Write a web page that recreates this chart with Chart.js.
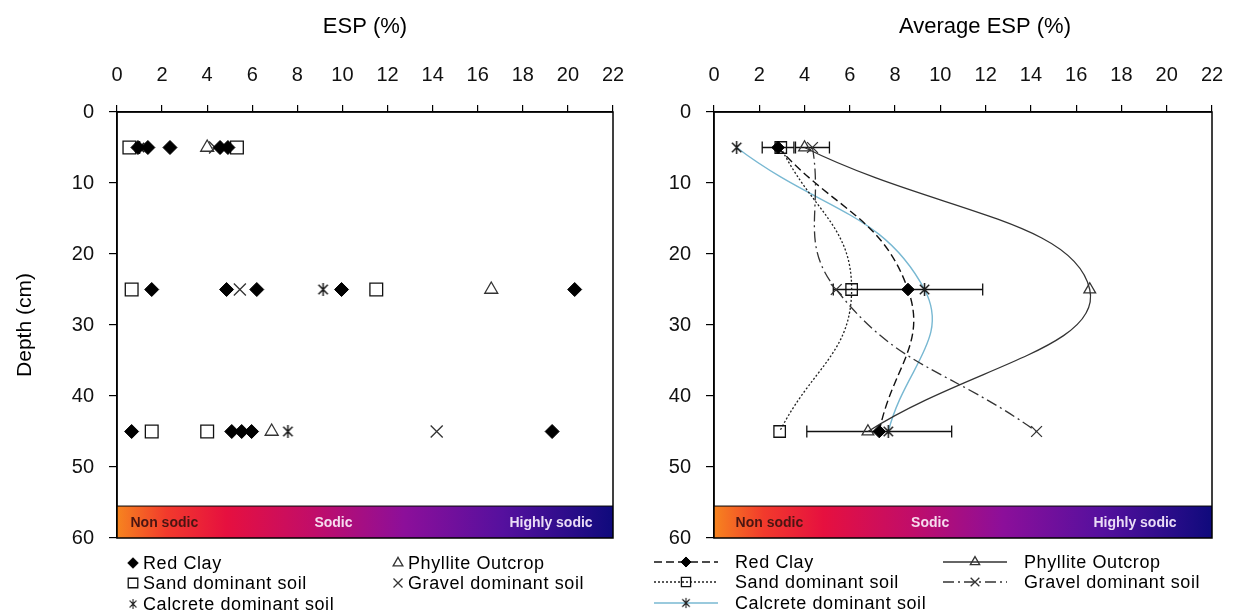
<!DOCTYPE html>
<html>
<head>
<meta charset="utf-8">
<script src="https://cdn.jsdelivr.net/npm/chart.js@4.4.1/dist/chart.umd.min.js"></script>
<style>
  html, body { margin: 0; padding: 0; background: #fff; }
  #wrap { position: relative; width: 1236px; height: 613px; overflow: hidden; background: #fff; }
  #espChart { position: absolute; left: 0; top: 0; }
  #avgChart { position: absolute; left: 618px; top: 0; }
</style>
</head>
<body>
<div id="wrap">
  <canvas id="espChart" width="640" height="613"></canvas>
  <canvas id="avgChart" width="618" height="613"></canvas>
</div>
<script>
// ---- Data -------------------------------------------------------------
const seriesNames = ['Red Clay', 'Phyllite Outcrop', 'Sand dominant soil', 'Gravel dominant soil', 'Calcrete dominant soil'];
const espTickValues = [0, 2, 4, 6, 8, 10, 12, 14, 16, 18, 20, 22];
const depthTickValues = [0, 10, 20, 30, 40, 50, 60];
const sodicityLabels = ['Non sodic', 'Sodic', 'Highly sodic'];

// Individual samples (ESP %, depth cm)
const redClayESP   = [0.93, 1.37, 2.35, 4.57, 4.92, 1.54, 4.86, 6.2, 9.96, 20.3, 0.65, 5.09, 5.53, 5.97, 19.3];
const redClayDepth = [5, 5, 5, 5, 5, 25, 25, 25, 25, 25, 45, 45, 45, 45, 45];
const phylliteESP   = [4.0, 16.6, 6.86];
const phylliteDepth = [5, 25, 45];
const sandESP   = [0.55, 5.32, 0.65, 11.5, 1.54, 4.0];
const sandDepth = [5, 5, 25, 25, 45, 45];
const gravelESP   = [4.35, 5.45, 14.18];
const gravelDepth = [5, 25, 45];
const calcreteESP   = [1.0, 9.14, 7.58];
const calcreteDepth = [5, 25, 45];

// Averages per sampling depth
const avgDepths   = [5, 25, 45];
const avgRedClay  = [2.83, 8.57, 7.3];
const errRedClay  = [0.7, 3.3, 3.2];
const avgPhyllite = [4.0, 16.6, 6.8];
const avgSand     = [2.95, 6.08, 2.9];
const avgGravel   = [4.35, 5.4, 14.25];
const errGravel   = [0.75, 0, 0];
const avgCalcrete = [1.0, 9.3, 7.7];

// ---- Helpers ------------------------------------------------------------
const FONT = '"Liberation Sans", Arial, Helvetica, sans-serif';
const pairs = (xs, ys) => xs.map((v, i) => ({ x: v, y: ys[i] }));

function asteriskImage(size, color, lw) {
  const c = document.createElement('canvas');
  c.width = c.height = size;
  const g = c.getContext('2d');
  const m = size / 2, r = size / 2 - 1;
  g.strokeStyle = color;
  g.lineWidth = lw;
  g.beginPath();
  g.moveTo(m, m - r); g.lineTo(m, m + r);
  g.moveTo(m - r * 0.72, m - r * 0.72); g.lineTo(m + r * 0.72, m + r * 0.72);
  g.moveTo(m + r * 0.72, m - r * 0.72); g.lineTo(m - r * 0.72, m + r * 0.72);
  g.stroke();
  return c;
}
const asteriskMark = asteriskImage(15, '#1a1a1a', 1.5);

function drawMarker(ctx, ds, x, y, scale) {
  const style = ds.pointStyle;
  if (style instanceof HTMLCanvasElement) {
    const s = style.width * scale;
    ctx.drawImage(style, x - s / 2, y - s / 2, s, s);
    return;
  }
  ctx.save();
  ctx.setLineDash([]);
  ctx.fillStyle = ds.pointBackgroundColor;
  ctx.strokeStyle = ds.pointBorderColor;
  ctx.lineWidth = ds.pointBorderWidth;
  Chart.helpers.drawPoint(ctx, {
    pointStyle: style, radius: ds.pointRadius * scale, rotation: 0, borderWidth: ds.pointBorderWidth
  }, x, y);
  ctx.restore();
}

// Sodicity band along the bottom of the plot area
const bandPlugin = {
  id: 'sodicBand',
  beforeDatasetsDraw(chart, args, opts) {
    const { ctx, chartArea: a, scales: { x, y } } = chart;
    const top = y.getPixelForValue(opts.fromDepth);
    const g = ctx.createLinearGradient(a.left, 0, a.right, 0);
    g.addColorStop(0.00, '#f6841f');
    g.addColorStop(0.10, '#f23a2c');
    g.addColorStop(0.22, '#e6103f');
    g.addColorStop(0.40, '#c00d6a');
    g.addColorStop(0.58, '#8c0f9a');
    g.addColorStop(0.78, '#55109e');
    g.addColorStop(1.00, '#0f0a7c');
    ctx.save();
    ctx.fillStyle = g;
    ctx.fillRect(a.left, top, a.right - a.left, a.bottom - top);
    ctx.strokeStyle = '#000';
    ctx.lineWidth = 1;
    ctx.beginPath();
    ctx.moveTo(a.left, top); ctx.lineTo(a.right, top);
    ctx.stroke();
    ctx.font = 'bold 14px ' + FONT;
    ctx.textAlign = 'center';
    ctx.textBaseline = 'middle';
    const colors = ['#4a1512', '#f6dcee', '#eadcf6'];
    sodicityLabels.forEach((t, i) => {
      ctx.fillStyle = colors[i];
      ctx.fillText(t, x.getPixelForValue(opts.labelAt[i]), (top + a.bottom) / 2 + 1);
    });
    ctx.restore();
  }
};

// Horizontal standard-error bars
const errorBarPlugin = {
  id: 'errorBars',
  beforeDatasetsDraw(chart) {
    const { ctx, scales: { x, y } } = chart;
    ctx.save();
    ctx.strokeStyle = '#111';
    ctx.lineWidth = 1.3;
    chart.data.datasets.forEach(ds => {
      if (!ds.errorX) return;
      ds.data.forEach((p, j) => {
        const e = ds.errorX[j];
        if (!e) return;
        const py = y.getPixelForValue(p.y);
        const x1 = x.getPixelForValue(p.x - e), x2 = x.getPixelForValue(p.x + e);
        ctx.beginPath();
        ctx.moveTo(x1, py); ctx.lineTo(x2, py);
        ctx.moveTo(x1, py - 6); ctx.lineTo(x1, py + 6);
        ctx.moveTo(x2, py - 6); ctx.lineTo(x2, py + 6);
        ctx.stroke();
      });
    });
    ctx.restore();
  }
};

// Plot frame, top title and two-column legend
const framePlugin = {
  id: 'frameAndLegend',
  afterDraw(chart, args, opts) {
    const { ctx, chartArea: a } = chart;
    ctx.save();
    ctx.strokeStyle = '#000';
    ctx.lineWidth = 1.5;
    ctx.strokeRect(a.left, a.top, a.right - a.left, a.bottom - a.top);

    ctx.fillStyle = '#000';
    ctx.font = '22px ' + FONT;
    ctx.textAlign = 'center';
    ctx.textBaseline = 'middle';
    ctx.fillText(opts.title, (a.left + a.right) / 2 + opts.titleShift, 27);

    ctx.font = '18px ' + FONT;
    ctx.letterSpacing = '0.6px';
    ctx.textAlign = 'left';
    chart.data.datasets.forEach((ds, i) => {
      const col = i % 2, row = Math.floor(i / 2);
      const mx = opts.colX[col], my = opts.rowY[row];
      if (opts.lineHalf) {
        ctx.save();
        ctx.strokeStyle = ds.borderColor;
        ctx.lineWidth = ds.borderWidth;
        ctx.setLineDash(ds.borderDash || []);
        ctx.beginPath();
        ctx.moveTo(mx - opts.lineHalf, my); ctx.lineTo(mx + opts.lineHalf, my);
        ctx.stroke();
        ctx.restore();
      }
      drawMarker(ctx, ds, mx, my, opts.markerScale);
      ctx.fillStyle = '#000';
      ctx.fillText(ds.label, mx + opts.textGap, my + 1);
    });
    ctx.restore();
  }
};

function makeScales(yWidth, yTitle) {
  return {
    x: {
      type: 'linear', position: 'top', min: 0, max: 22,
      afterBuildTicks: s => { s.ticks = espTickValues.map(v => ({ value: v })); },
      afterFit: s => { s.height = 112; s.paddingLeft = 0; s.paddingRight = 0; },
      ticks: { color: '#111', padding: 18, font: { family: FONT, size: 20 } },
      grid: { drawOnChartArea: false, drawTicks: true, tickLength: 7, color: '#000', lineWidth: 1.2 },
      border: { display: true, color: '#000', width: 1.5 }
    },
    y: {
      type: 'linear', position: 'left', reverse: true, min: 0, max: 60,
      afterBuildTicks: s => { s.ticks = depthTickValues.map(v => ({ value: v })); },
      afterFit: s => { s.width = yWidth; s.paddingTop = 0; s.paddingBottom = 0; },
      ticks: { color: '#111', padding: 15, font: { family: FONT, size: 20 } },
      grid: { drawOnChartArea: false, drawTicks: true, tickLength: 8, color: '#000', lineWidth: 1.2 },
      border: { display: true, color: '#000', width: 1.5 },
      title: yTitle ? { display: true, text: yTitle, color: '#000', font: { family: FONT, size: 21 }, padding: { top: 13, bottom: 0 } } : { display: false }
    }
  };
}

const markerLook = [
  { pointStyle: 'rectRot',  pointRadius: 7,   pointBackgroundColor: '#000', pointBorderColor: '#000', pointBorderWidth: 1 },
  { pointStyle: 'triangle', pointRadius: 7.5, pointBackgroundColor: 'rgba(0,0,0,0)', pointBorderColor: '#333', pointBorderWidth: 1.3 },
  { pointStyle: 'rect',     pointRadius: 9,   pointBackgroundColor: 'rgba(0,0,0,0)', pointBorderColor: '#111', pointBorderWidth: 1.3 },
  { pointStyle: 'crossRot', pointRadius: 8.5, pointBackgroundColor: 'rgba(0,0,0,0)', pointBorderColor: '#333', pointBorderWidth: 1.3 },
  { pointStyle: asteriskMark, pointRadius: 7.5, pointBackgroundColor: 'rgba(0,0,0,0)', pointBorderColor: '#222', pointBorderWidth: 1.3 }
];

// ---- Left panel: individual samples ------------------------------------
const sampleSets = [
  pairs(redClayESP, redClayDepth),
  pairs(phylliteESP, phylliteDepth),
  pairs(sandESP, sandDepth),
  pairs(gravelESP, gravelDepth),
  pairs(calcreteESP, calcreteDepth)
];

new Chart(document.getElementById('espChart'), {
  type: 'scatter',
  data: {
    datasets: sampleSets.map((d, i) => Object.assign({
      label: seriesNames[i], data: d, showLine: false,
      pointHoverRadius: markerLook[i].pointRadius
    }, markerLook[i]))
  },
  options: {
    responsive: false, animation: false, events: [],
    layout: { padding: { top: 0, left: 0, right: 27, bottom: 75 } },
    scales: makeScales(117, 'Depth (cm)'),
    plugins: {
      legend: { display: false }, tooltip: { enabled: false },
      sodicBand: { fromDepth: 55.5, labelAt: [2.1, 9.6, 19.25] },
      frameAndLegend: { title: 'ESP (%)', titleShift: 0, colX: [133, 398], rowY: [563, 583, 604], textGap: 10, markerScale: 0.75, lineHalf: 0 }
    }
  },
  plugins: [bandPlugin, framePlugin]
});

// ---- Right panel: averages with smoothed depth profiles ----------------
const lineLook = [
  { borderColor: '#111', borderWidth: 1.4, borderDash: [8, 4] },
  { borderColor: '#333', borderWidth: 1.3, borderDash: [] },
  { borderColor: '#222', borderWidth: 1.3, borderDash: [2, 2] },
  { borderColor: '#333', borderWidth: 1.3, borderDash: [11, 4, 2, 4] },
  { borderColor: '#78b8d2', borderWidth: 1.4, borderDash: [] }
];
const avgSets = [avgRedClay, avgPhyllite, avgSand, avgGravel, avgCalcrete];
const avgErrors = [errRedClay, null, null, errGravel, null];

new Chart(document.getElementById('avgChart'), {
  type: 'scatter',
  data: {
    datasets: avgSets.map((vals, i) => Object.assign({
      label: seriesNames[i], data: pairs(vals, avgDepths), showLine: true,
      tension: 0.45, fill: false, errorX: avgErrors[i]
    }, lineLook[i], markerLook[i], {
      pointRadius: markerLook[i].pointRadius * 0.9
    }))
  },
  options: {
    responsive: false, animation: false, events: [],
    layout: { padding: { top: 0, left: 0, right: 24, bottom: 75 } },
    scales: makeScales(96, null),
    plugins: {
      legend: { display: false }, tooltip: { enabled: false },
      sodicBand: { fromDepth: 55.5, labelAt: [2.45, 9.55, 18.6] },
      frameAndLegend: { title: 'Average ESP (%)', titleShift: 22, colX: [68, 357], rowY: [562, 582, 603], textGap: 49, markerScale: 0.8, lineHalf: 32 }
    }
  },
  plugins: [bandPlugin, errorBarPlugin, framePlugin]
});
</script>
</body>
</html>
